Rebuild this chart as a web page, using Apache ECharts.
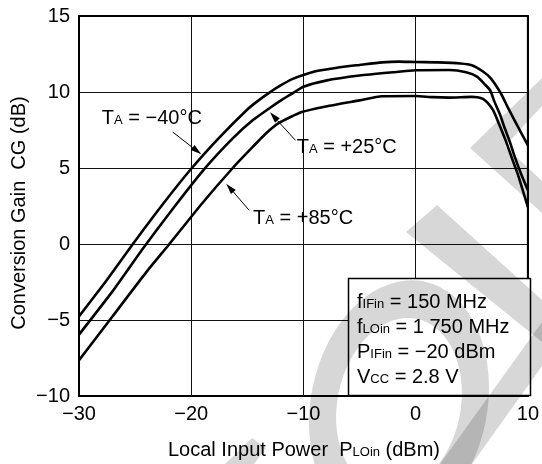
<!DOCTYPE html>
<html>
<head>
<meta charset="utf-8">
<script src="https://cdn.jsdelivr.net/npm/echarts@6/dist/echarts.min.js"></script>
<style>
  html, body { margin: 0; padding: 0; background: #fff; }
  #chart { width: 542px; height: 464px; }
</style>
</head>
<body>
<div id="chart"></div>
<script>
// Conversion gain vs. local input power, three ambient temperatures
const xTicks = [-30, -20, -10, 0, 10];
const yTicks = [-10, -5, 0, 5, 10, 15];

// T_A = -40 °C
const gainM40 = [
  [-30, -4.76], [-27.5, -2.35], [-25, 0.2], [-22.5, 2.65], [-20, 4.95], [-17.5, 7.0],
  [-15, 8.85], [-14, 9.45], [-13, 9.98], [-12, 10.45], [-11, 10.85], [-9, 11.35], [-7, 11.6],
  [-5, 11.78], [-3, 11.95], [-1.5, 12.0], [0, 11.97], [2, 11.95], [4, 11.88],
  [5, 11.76], [6, 11.35], [6.7, 10.9], [7.6, 9.9], [8.2, 9.0], [8.8, 8.15],
  [9.3, 7.45], [10, 6.49]
];
// T_A = +25 °C
const gain25 = [
  [-30, -5.96], [-27, -3.1], [-24.3, -0.3], [-21.5, 2.45], [-18.8, 4.96], [-16.3, 6.95],
  [-14.5, 8.15], [-13, 8.95], [-12, 9.45], [-11, 9.9], [-10, 10.35], [-8, 10.75],
  [-5, 11.08], [-2, 11.3], [0, 11.43], [3, 11.45], [4.5, 11.3], [5.5, 11.0],
  [6.1, 10.55], [6.65, 10.1], [7.0, 9.4], [7.5, 8.55], [7.9, 7.7], [8.4, 6.7],
  [8.8, 5.8], [9.4, 4.6], [10, 3.53]
];
// T_A = +85 °C
const gain85 = [
  [-30, -7.65], [-27, -4.75], [-24, -1.85], [-22, -0.05], [-19, 2.7], [-16.3, 5.0],
  [-14.5, 6.4], [-13.3, 7.3], [-12.2, 7.95], [-10.15, 8.68], [-8, 9.05], [-5, 9.45],
  [-3, 9.72], [0, 9.74], [1.5, 9.66], [3, 9.63], [5, 9.68], [5.5, 9.66], [6.0, 9.55],
  [6.4, 9.3], [6.9, 8.8], [7.4, 7.95], [8.0, 6.85], [8.6, 5.6], [9.1, 4.6],
  [9.6, 3.4], [10, 2.43]
];

// Curve labels: text anchor, arrow tail, arrow tip (data units)
const labelM40 = { text: [-27.97, 8.27], tail: [-21.66, 7.37], tip: [-19.1, 5.9], temp: '\u221240°C' };
const label25  = { text: [-10.6, 6.38],  tail: [-10.71, 6.82], tip: [-12.98, 8.66], temp: '+25°C' };
const label85  = { text: [-14.49, 1.69], tail: [-14.84, 2.22], tip: [-16.88, 3.97], temp: '+85°C' };

const FONT = '"Liberation Sans", Arial, Helvetica, sans-serif';
const minus = v => String(v).replace('-', '\u2212');

const chart = echarts.init(document.getElementById('chart'), null, { renderer: 'canvas' });

const curve = (name, data) => ({
  name, type: 'line', data, showSymbol: false, symbol: 'none',
  smooth: 0.2,
  lineStyle: { color: '#000', width: 2.6 }, z: 3, silent: true
});

chart.setOption({
  animation: false,
  backgroundColor: '#fff',
  grid: { left: 79, right: 11, top: 16, bottom: 68, show: true, borderColor: '#000', borderWidth: 2, backgroundColor: 'transparent', z: 4 },
  xAxis: {
    type: 'value', min: xTicks[0], max: xTicks[xTicks.length - 1], interval: 10,
    axisLine: { show: false }, axisTick: { show: false },
    splitLine: { show: true, lineStyle: { color: '#111', width: 1 } },
    axisLabel: { color: '#000', fontSize: 20, fontFamily: FONT, margin: 8, formatter: minus }
  },
  yAxis: {
    type: 'value', min: yTicks[0], max: yTicks[yTicks.length - 1], interval: 5,
    axisLine: { show: false }, axisTick: { show: false },
    splitLine: { show: true, lineStyle: { color: '#111', width: 1 } },
    axisLabel: { color: '#000', fontSize: 20, fontFamily: FONT, margin: 9, formatter: minus }
  },
  series: [
    curve('TA = -40°C', gainM40),
    curve('TA = +25°C', gain25),
    curve('TA = +85°C', gain85)
  ]
});

const rich = {
  m: { fontSize: 20, fontFamily: FONT, fill: '#000', color: '#000' },
  s: { fontSize: 13, fontFamily: FONT, fill: '#000', color: '#000', verticalAlign: 'bottom', padding: [0, 0, 1, 0] }
};

const px = p => chart.convertToPixel({ gridIndex: 0 }, p);

function tempLabel(lab) {
  const t = px(lab.text), a = px(lab.tail), b = px(lab.tip);
  const ang = Math.atan2(b[1] - a[1], b[0] - a[0]);
  const L = 11, W = 3.2;
  const bx = b[0] - L * Math.cos(ang), by = b[1] - L * Math.sin(ang);
  const nx = -Math.sin(ang) * W, ny = Math.cos(ang) * W;
  return [
    { type: 'text', x: t[0], y: t[1], z: 20, silent: true,
      style: { text: '{m|T}{s|A}{m| = ' + lab.temp + '}', rich, align: 'left', verticalAlign: 'middle' } },
    { type: 'line', z: 20, silent: true, shape: { x1: a[0], y1: a[1], x2: bx, y2: by }, style: { stroke: '#000', lineWidth: 1 } },
    { type: 'polygon', z: 20, silent: true, shape: { points: [[b[0], b[1]], [bx + nx, by + ny], [bx - nx, by - ny]] }, style: { fill: '#000' } }
  ];
}

// Condition box in the lower-right corner
const boxLines = [
  ['f', 'IFin', ' = 150 MHz'],
  ['f', 'LOin', ' = 1 750 MHz'],
  ['P', 'IFin', ' = \u221220 dBm'],
  ['V', 'CC', ' = 2.8 V']
];

const graphics = [];
graphics.push({ type: 'rect', z: 15, silent: true, shape: { x: 348.5, y: 278.5, width: 182, height: 117 },
  style: { fill: '#fff', stroke: '#000', lineWidth: 1.5 } });
boxLines.forEach((ln, i) => {
  graphics.push({ type: 'text', x: 357, y: 302 + i * 25, z: 16, silent: true,
    style: { text: '{m|' + ln[0] + '}{s|' + ln[1] + '}{m|' + ln[2] + '}', rich, align: 'left', verticalAlign: 'middle' } });
});
[labelM40, label25, label85].forEach(l => tempLabel(l).forEach(g => graphics.push(g)));

// Axis titles
graphics.push({ type: 'text', x: 304, y: 450, z: 16, silent: true,
  style: { text: '{m|Local Input Power  P}{s|LOin}{m| (dBm)}', rich, align: 'center', verticalAlign: 'middle' } });
graphics.push({ type: 'text', x: 19, y: 213, rotation: Math.PI / 2, z: 16, silent: true,
  style: { text: 'Conversion Gain  CG (dB)', fill: '#000', font: '20px ' + FONT, align: 'center', verticalAlign: 'middle' } });

// Grey background lettering
const wm = 'rgba(0,0,0,0.155)';
graphics.push({ type: 'ring', x: 399, y: 405, scaleX: 0.7, rotation: -0.2, z: 50, silent: true,
  shape: { cx: 0, cy: 0, r: 126, r0: 88 }, style: { fill: wm } });
graphics.push({ type: 'polygon', z: 50, silent: true, shape: { points: [[406, 232], [437, 205], [542, 300], [542, 342]] }, style: { fill: wm } });
graphics.push({ type: 'polygon', z: 50, silent: true, shape: { points: [[470, 148], [542, 78], [542, 106], [505, 146], [542, 181], [542, 213]] }, style: { fill: wm } });
graphics.push({ type: 'polygon', z: 50, silent: true, shape: { points: [[440, 464], [472, 464], [542, 366], [542, 322]] }, style: { fill: wm } });
graphics.push({ type: 'polygon', z: 50, silent: true, shape: { points: [[225, 464], [252, 438], [266, 448], [254, 464]] }, style: { fill: wm } });

chart.setOption({ graphic: graphics });
</script>
</body>
</html>
